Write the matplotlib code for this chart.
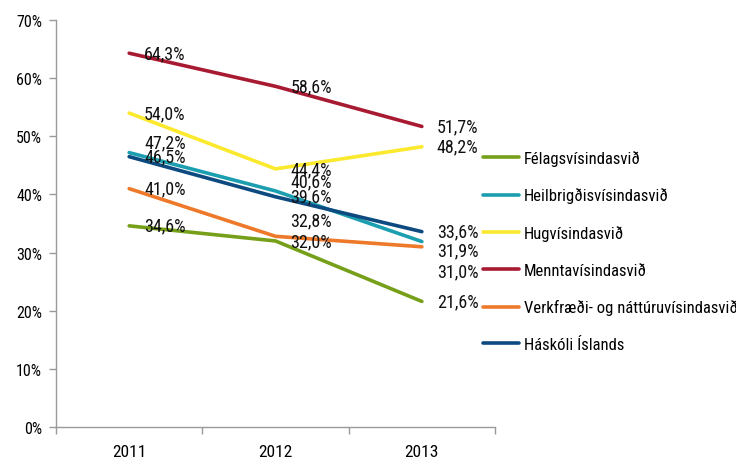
import matplotlib
matplotlib.use('Agg')
import matplotlib.pyplot as plt
from matplotlib import font_manager
from matplotlib.ticker import FuncFormatter, FixedLocator

# pick a narrow sans like the original Arial Narrow
fam = ['Liberation Sans', 'DejaVu Sans']
for cand in ['Liberation Sans Narrow', 'Arial Narrow', 'Nimbus Sans Narrow',
             'Roboto Condensed', 'Archivo Narrow', 'PT Sans Narrow']:
    try:
        font_manager.findfont(cand, fallback_to_default=False)
        fam = [cand, 'DejaVu Sans']
        break
    except Exception:
        pass
plt.rcParams['font.family'] = fam

years = ['2011', '2012', '2013']
felags = [34.6, 32.0, 21.6]
heilbr = [47.2, 40.6, 31.9]
hugvis = [54.0, 44.4, 48.2]
mennta = [64.3, 58.6, 51.7]
verkfr = [41.0, 32.8, 31.0]
haskoli = [46.5, 39.6, 33.6]

series = [
    ('Félagsvísindasvið', felags, '#77a01a'),
    ('Heilbrigðisvísindasvið', heilbr, '#1b9fb0'),
    ('Hugvísindasvið', hugvis, '#fbe92e'),
    ('Menntavísindasvið', mennta, '#a81a32'),
    ('Verkfræði- og náttúruvísindasvið', verkfr, '#ee792b'),
    ('Háskóli Íslands', haskoli, '#0d4a80'),
]

# vertical nudges (pixels) for data labels that would overlap
nudge = {
    ('Heilbrigðisvísindasvið', 0): 10,
    ('Heilbrigðisvísindasvið', 1): 10,
    ('Verkfræði- og náttúruvísindasvið', 1): 16,
    ('Heilbrigðisvísindasvið', 2): -9,
    ('Verkfræði- og náttúruvísindasvið', 2): -25,
}

fig = plt.figure(figsize=(7.36, 4.64), dpi=100)
ax = fig.add_axes([0.0761, 0.0776, 0.5965, 0.877])

x = list(range(len(years)))
for name, vals, col in series:
    ax.plot(x, vals, color=col, lw=2.6, label=name, solid_capstyle='round')
    for i, v in enumerate(vals):
        dy = nudge.get((name, i), 0)
        ax.annotate(f'{v:.1f}%'.replace('.', ','), (i, v),
                    xytext=(15, dy), textcoords='offset pixels',
                    ha='left', va='center', fontsize=13, color='#111111')

ax.set_xlim(-0.5, 2.5)
ax.set_ylim(0, 70)
ax.set_yticks(range(0, 71, 10))
ax.yaxis.set_major_formatter(FuncFormatter(lambda v, p: f'{v:.0f}%'))
ax.set_xticks(x)
ax.set_xticklabels(years)
ax.xaxis.set_minor_locator(FixedLocator([-0.5, 0.5, 1.5, 2.5]))
ax.tick_params(axis='x', which='major', length=0, pad=12, labelsize=12.5)
ax.tick_params(axis='x', which='minor', length=5, color='#999999', width=1, direction='out')
ax.tick_params(axis='y', length=5, color='#999999', width=1, labelsize=11.5, pad=5)

for s in ['top', 'right']:
    ax.spines[s].set_visible(False)
for s in ['left', 'bottom']:
    ax.spines[s].set_color('#999999')
    ax.spines[s].set_linewidth(1)

fig.legend(loc='center left', bbox_to_anchor=(0.656, 0.457), frameon=False,
           fontsize=12, handlelength=2.2, handletextpad=0.25, labelspacing=1.3,
           borderaxespad=0, borderpad=0)

fig.savefig('out.png', dpi=100)
